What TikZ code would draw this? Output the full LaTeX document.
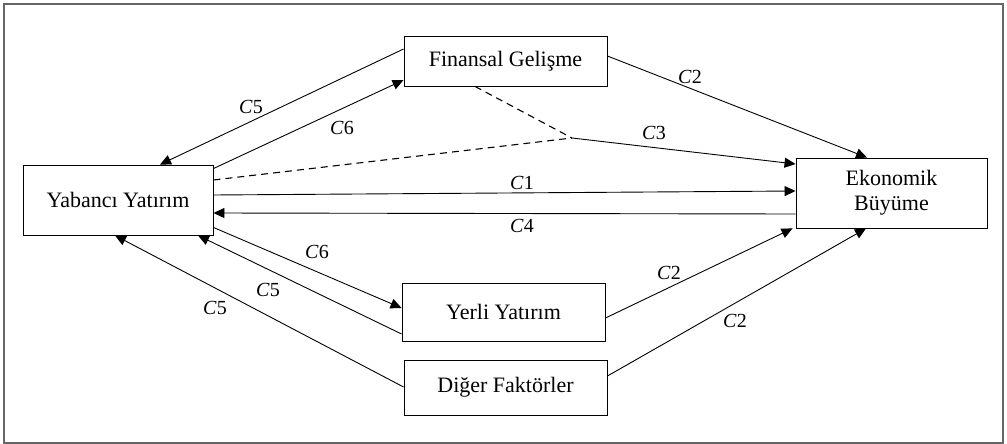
\documentclass[tikz,border=0pt]{standalone}
\usepackage{fontspec}
\setmainfont{Liberation Serif}
\usetikzlibrary{arrows.meta}
\newcommand{\cl}[1]{\textit{C}#1}
\begin{document}
\begin{tikzpicture}[x=1pt,y=-1pt,
  box/.style={draw=black,line width=0.9pt,inner sep=0pt,font=\fontsize{22}{25}\selectfont,align=center},
  conn/.style={draw=black,line width=0.9pt,-{Triangle[length=11pt,width=10pt]}},
  dconn/.style={draw=black,line width=1.1pt,dash pattern=on 7pt off 5pt},
  lbl/.style={font=\fontsize{20}{22}\selectfont,inner sep=0pt}]
\useasboundingbox (0,0) rectangle (1007,444);
\draw[gray!80!black,line width=1.6pt] (4,4) rectangle (1003,443);
\node[box,minimum width=203pt,minimum height=50pt] (fin) at (505.5,61) {Finansal Gelişme};
\node[box,minimum width=190pt,minimum height=70pt] (yab) at (118,200) {Yabancı Yatırım};
\node[box,minimum width=191pt,minimum height=70pt] (eko) at (891.5,193) {Ekonomik\\Büyüme};
\node[box,minimum width=203pt,minimum height=58pt] (yer) at (503.5,312) {Yerli Yatırım};
\node[box,minimum width=203pt,minimum height=55pt] (dig) at (505.5,387.5) {Diğer Faktörler};
\coordinate (m) at (572,138);
% top pair
\draw[conn] ([yshift=12pt]fin.west) -- ([xshift=42pt]yab.north);
\draw[conn] ([yshift=-4pt]yab.north east) -- ([yshift=-19pt]fin.west);
% dashed moderation
\draw[dconn] ([yshift=20pt]yab.east) -- (m);
\draw[dconn] ([xshift=-30.5pt]fin.south) -- (m);
\draw[conn] (m) -- ([yshift=29pt]eko.west);
% C1 / C4
\draw[conn] ([yshift=5pt]yab.east) -- ([yshift=2pt]eko.west);
\draw[conn] ([yshift=-21pt]eko.west) -- ([yshift=-13pt]yab.east);
% C2s
\draw[conn] ([yshift=5pt]fin.east) -- ([xshift=-24.5pt]eko.north);
\draw[conn] ([yshift=-6pt]yer.east) -- ([xshift=-3pt]eko.south west);
\draw[conn] ([yshift=11.5pt]dig.east) -- ([xshift=-25.5pt]eko.south);
% bottom
\draw[conn] ([yshift=8pt]yab.south east) -- ([yshift=4pt]yer.west);
\draw[conn] ([yshift=-22pt]yer.west) -- ([xshift=80pt]yab.south);
\draw[conn] ([yshift=0.5pt]dig.west) -- ([xshift=-3pt]yab.south);
% labels
\node[lbl] (l1) at (251,107) {\cl{5}};
\node[lbl] (l2) at (342,128) {\cl{6}};
\node[lbl] (l3) at (690,77) {\cl{2}};
\node[lbl] (l4) at (654,133) {\cl{3}};
\node[lbl] (l5) at (522,183) {\cl{1}};
\node[lbl] (l6) at (522,226) {\cl{4}};
\node[lbl] (l7) at (317,252) {\cl{6}};
\node[lbl] (l8) at (268,290) {\cl{5}};
\node[lbl] (l9) at (215,308) {\cl{5}};
\node[lbl] (l10) at (669,273) {\cl{2}};
\node[lbl] (l11) at (735,321) {\cl{2}};
\end{tikzpicture}
\end{document}
